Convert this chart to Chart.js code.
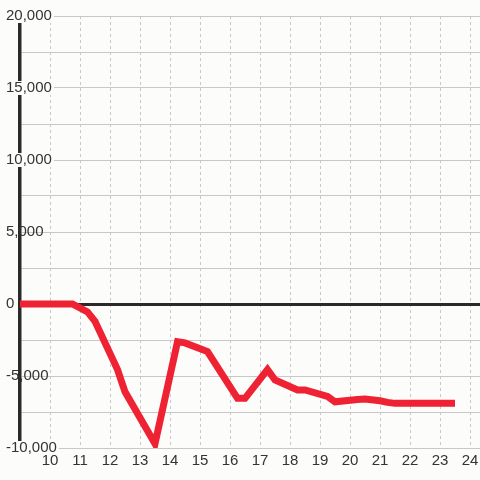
<!DOCTYPE html>
<html>
<head>
<meta charset="utf-8">
<script src="https://cdn.jsdelivr.net/npm/chart.js@4"></script>
<style>
  html, body { margin: 0; padding: 0; background: #fcfdfa; }
  #wrap { width: 480px; height: 480px; }
</style>
</head>
<body>
<div id="wrap"><canvas id="chart"></canvas></div>
<script>
const canvas = document.getElementById("chart");

// hour of day -> value
const hours = [8.9, 10.75, 11.25, 11.5, 12.25, 12.5, 13.5, 14.25, 14.5, 15.25, 16.25, 16.5, 17.25, 17.5, 18.25, 18.5, 19.25, 19.5, 20.25, 20.5, 21.0, 21.25, 21.5, 23.5];
const values = [0, 0, -550, -1200, -4550, -6100, -9700, -2620, -2700, -3300, -6550, -6550, -4550, -5280, -5970, -5970, -6420, -6790, -6630, -6600, -6720, -6830, -6900, -6900];

const xTicks = [10, 11, 12, 13, 14, 15, 16, 17, 18, 19, 20, 21, 22, 23, 24];
const yTicks = [-10000, -7500, -5000, -2500, 0, 2500, 5000, 7500, 10000, 12500, 15000, 17500, 20000];
const yLabelled = [-10000, -5000, 0, 5000, 10000, 15000, 20000];

const bg = "#fcfdfa";
const red = "#ee2233";

Chart.defaults.font.family = '"Liberation Sans", Arial, sans-serif';
Chart.defaults.font.size = 15;
Chart.defaults.color = "#333";

// labels that cut the axis line in the original
function hasBackdrop(v) {
  return yLabelled.includes(v) && (v >= 10000 || v === -10000);
}

let myChart = new Chart(canvas, {
  type: "line",
  data: {
    datasets: [{
      data: hours.map((h, i) => ({ x: h, y: values[i] })),
      borderColor: red,
      borderWidth: 7,
      pointRadius: 0,
      tension: 0,
    }],
  },
  options: {
    responsive: true,
    maintainAspectRatio: false,
    animation: false,
    layout: { padding: { left: 20, top: 16, right: 0, bottom: 6 } },
    plugins: { legend: { display: false }, tooltip: { enabled: false } },
    scales: {
      x: {
        type: "linear",
        min: 9,
        max: 24.333,
        afterBuildTicks: (scale) => { scale.ticks = xTicks.map((v) => ({ value: v })); },
        afterFit: (scale) => { scale.paddingLeft = 0; scale.paddingRight = 0; },
        grid: { color: "#c8c8c8", lineWidth: 1, drawTicks: false },
        border: { display: false, dash: [3, 3] },
        ticks: { padding: 4, maxRotation: 0, autoSkip: false, callback: (v) => String(v) },
      },
      y: {
        min: -10000,
        max: 20000,
        afterBuildTicks: (scale) => { scale.ticks = yTicks.map((v) => ({ value: v })); },
        afterFit: (scale) => { scale.width = 0; },
        grid: {
          drawTicks: false,
          color: (ctx) => (ctx.tick && ctx.tick.value === 0 ? "#2a2a2a" : "#c8c8c8"),
          lineWidth: (ctx) => (ctx.tick && ctx.tick.value === 0 ? 3 : 1),
        },
        border: { display: true, color: "#2a2a2a", width: 3.5 },
        ticks: {
          z: 1,
          mirror: true,
          padding: -14,
          crossAlign: "near",
          autoSkip: false,
          callback: (v) => (yLabelled.includes(v) ? v.toLocaleString("en-US") : ""),
          showLabelBackdrop: (ctx) => !!ctx.tick && hasBackdrop(ctx.tick.value),
          backdropColor: bg,
          backdropPadding: { top: -2, bottom: -2, left: 1, right: 2 },
        },
      },
    },
  },
});
</script>
</body>
</html>
